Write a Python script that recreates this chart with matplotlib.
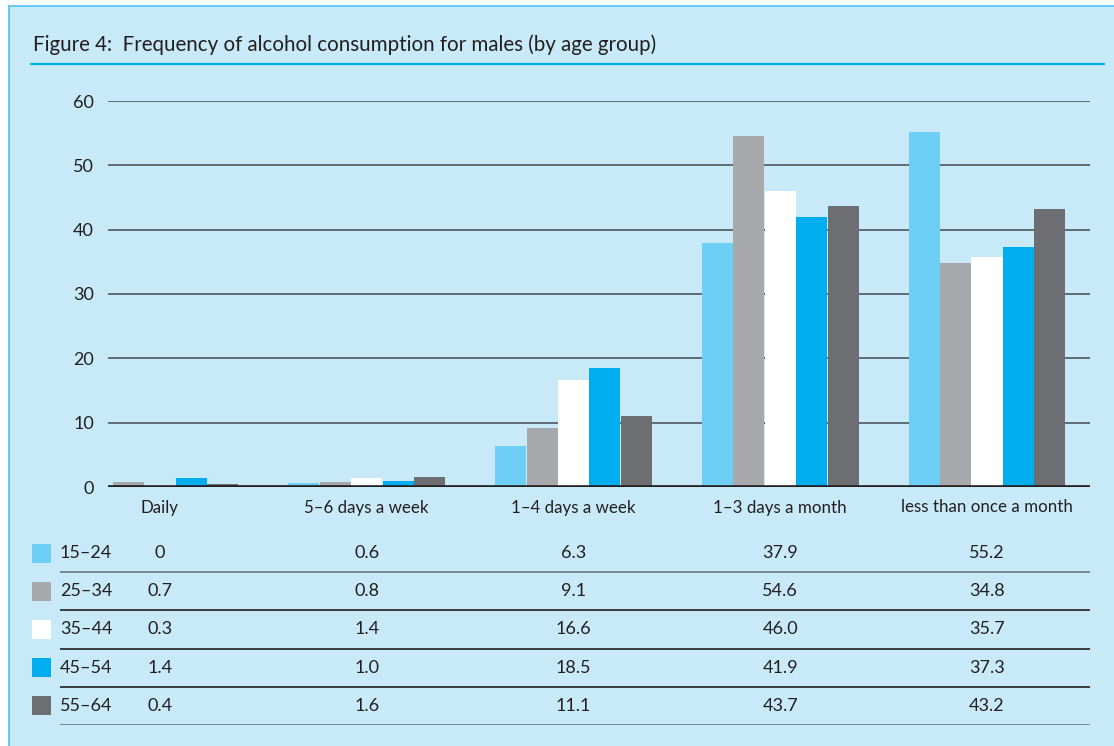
import matplotlib.pyplot as plt
from matplotlib.patches import Rectangle

# data
categories = ['Daily', '5–6 days a week', '1–4 days a week', '1–3 days a month', 'less than once a month']
age_groups = ['15–24', '25–34', '35–44', '45–54', '55–64']
v_15_24 = [0, 0.6, 6.3, 37.9, 55.2]
v_25_34 = [0.7, 0.8, 9.1, 54.6, 34.8]
v_35_44 = [0.3, 1.4, 16.6, 46.0, 35.7]
v_45_54 = [1.4, 1.0, 18.5, 41.9, 37.3]
v_55_64 = [0.4, 1.6, 11.1, 43.7, 43.2]
series = [v_15_24, v_25_34, v_35_44, v_45_54, v_55_64]
table_text = [
    ['0', '0.6', '6.3', '37.9', '55.2'],
    ['0.7', '0.8', '9.1', '54.6', '34.8'],
    ['0.3', '1.4', '16.6', '46.0', '35.7'],
    ['1.4', '1.0', '18.5', '41.9', '37.3'],
    ['0.4', '1.6', '11.1', '43.7', '43.2'],
]
colors = ['#6dcff6', '#a7a9ac', '#ffffff', '#00aeef', '#6d6e71']

BG = '#c7e9f8'
INK = '#231f20'
W, H = 1114, 746

plt.rcParams['font.family'] = ['Lato', 'DejaVu Sans']

fig = plt.figure(figsize=(W / 100, H / 100), dpi=100)
fig.patch.set_facecolor('white')

def px(x0, y0, x1, y1):
    # pixel box (top-left origin) -> figure fraction rect
    return [x0 / W, 1 - y1 / H, (x1 - x0) / W, (y1 - y0) / H]

# background panel with left/top border
fig.add_artist(Rectangle((9 / W, 0), 1 - 9 / W, 1 - 6 / H, transform=fig.transFigure,
                         facecolor=BG, edgecolor='none', zorder=0))
fig.add_artist(plt.Line2D([9 / W, 9 / W], [0, 1 - 6 / H], transform=fig.transFigure,
                          color='#4cc3f1', lw=1.2))
fig.add_artist(plt.Line2D([9 / W, 1], [1 - 6 / H, 1 - 6 / H], transform=fig.transFigure,
                          color='#4cc3f1', lw=1.2))

# title and rule
fig.text(33 / W, 1 - 45 / H, 'Figure 4:  Frequency of alcohol consumption for males (by age group)',
         fontsize=14.8, color=INK, va='center', ha='left')
fig.add_artist(plt.Line2D([31 / W, 1104 / W], [1 - 64 / H, 1 - 64 / H], transform=fig.transFigure,
                          color='#00aeef', lw=1.5))

# category scale: centre of group 0 at 160 px, spacing 206.75 px
c0, step = 160, 206.75
x_right = (1090 - c0) / step

ax = fig.add_axes(px(108, 101, 1090, 487))
ax.set_facecolor('none')
ax.set_xlim((108 - c0) / step, x_right)
ax.set_ylim(0, 60)

bw = 0.15
for j, vals in enumerate(series):
    offs = (j - 2) * 0.152
    ax.bar([i + offs for i in range(len(categories))], vals, width=bw,
           color=colors[j], edgecolor='none', zorder=3)

ax.set_yticks(range(0, 61, 10))
ax.yaxis.grid(True, color='#55616b', lw=1.3, zorder=1)
ax.axhline(0, color=INK, lw=2.6, zorder=4)
for s in ax.spines.values():
    s.set_visible(False)
ax.tick_params(axis='y', length=0, pad=10, labelsize=13, labelcolor=INK)
ax.set_xticks(range(len(categories)))
ax.set_xticklabels(categories)
ax.tick_params(axis='x', length=0, pad=9, labelsize=12.2, labelcolor=INK)

# data table under the chart
tab = fig.add_axes(px(60, 534, 1090, 725))
tab.set_facecolor('none')
tab.set_xlim((60 - c0) / step, x_right)
tab.set_ylim(len(age_groups), 0)
tab.axis('off')
line_cols = ['#6d7882', INK, INK, INK, '#6d7882']
for r, grp in enumerate(age_groups):
    yc = r + 0.5
    tab.axhline(r + 1, color=line_cols[r], lw=1.2)
    tab.add_patch(Rectangle(((32 - c0) / step, yc - 0.25), 19 / step, 0.5,
                            facecolor=colors[r], edgecolor='none', clip_on=False))
    tab.text((60 - c0) / step, yc, grp, fontsize=13, color=INK, ha='left', va='center')
    for i, t in enumerate(table_text[r]):
        tab.text(i, yc, t, fontsize=13, color=INK, ha='center', va='center')

fig.savefig('out.png', dpi=100, facecolor=fig.get_facecolor())
